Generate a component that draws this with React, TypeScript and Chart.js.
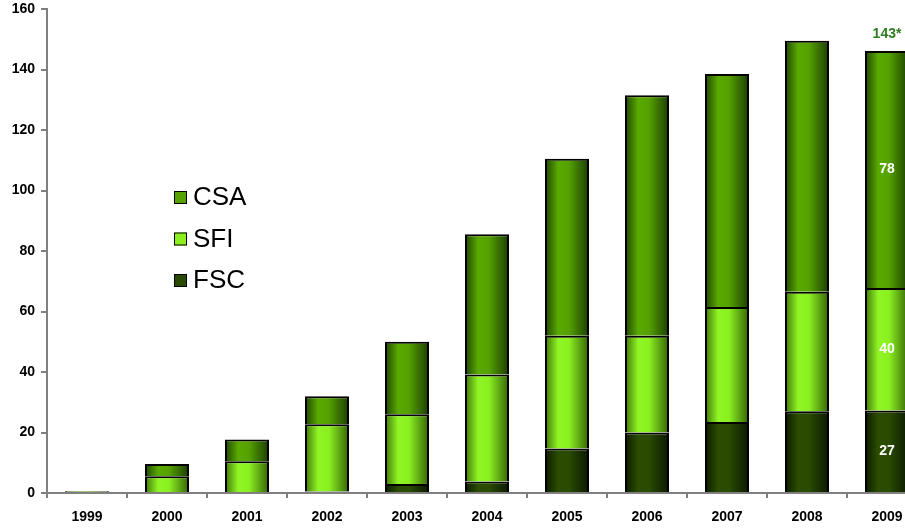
import React, { useEffect, useRef } from "react";
import { Chart, registerables } from "chart.js";

Chart.register(...registerables);

const years = ["1999", "2000", "2001", "2002", "2003", "2004", "2005", "2006", "2007", "2008", "2009"];
const fsc = [0, 0, 0, 0.5, 3, 3.8, 14.7, 20, 23.5, 27, 27.3];
const sfi = [0, 5.5, 10.5, 22.2, 23, 35.4, 37.3, 32, 38, 39.5, 40.5];
const csa = [0.6, 4.1, 7.2, 9.3, 24, 46.3, 58.5, 79.5, 77, 83, 78.3];
const lastBarLabels = { fsc: "27", sfi: "40", csa: "78", total: "143*" };
const yTicks = [0, 20, 40, 60, 80, 100, 120, 140, 160];

const FONT = "Arial, 'Liberation Sans', sans-serif";
const BAR_PCT = 0.55;

const palette: Record<string, string[]> = {
  FSC: ["#0c1a00", "#2b4d00", "#294a00", "#0a1800"],
  SFI: ["#3e7608", "#90f625", "#8aee20", "#346406"],
  CSA: ["#1f4400", "#5aaa00", "#54a000", "#1b3d00"],
};
const legendColors: Record<string, string> = { FSC: "#284a00", SFI: "#8cf020", CSA: "#56a200" };

function gradientFor(stops: string[]) {
  return (ctx: any) => {
    const chart = ctx.chart;
    const xs = chart.scales ? chart.scales.x : null;
    if (ctx.type !== "data" || !xs || !chart.chartArea) return stops[1];
    const cx = xs.getPixelForValue(ctx.dataIndex);
    const w = (xs.width / years.length) * BAR_PCT;
    const g = chart.ctx.createLinearGradient(cx - w / 2, 0, cx + w / 2, 0);
    g.addColorStop(0, stops[0]);
    g.addColorStop(0.3, stops[1]);
    g.addColorStop(0.55, stops[2]);
    g.addColorStop(1, stops[3]);
    return g;
  };
}

const overlayPlugin = {
  id: "overlay",
  afterDatasetsDraw(chart: any) {
    const c = chart.ctx;
    const last = years.length - 1;
    c.save();
    c.textAlign = "center";
    c.textBaseline = "middle";
    c.font = `bold 14px ${FONT}`;
    c.fillStyle = "#ffffff";
    const segLabels = [lastBarLabels.fsc, lastBarLabels.sfi, lastBarLabels.csa];
    chart.data.datasets.forEach((ds: any, i: number) => {
      const el = chart.getDatasetMeta(i).data[last];
      if (!el) return;
      const mid = (el.y + el.base) / 2;
      c.fillText(segLabels[i], el.x, mid);
    });
    const topEl = chart.getDatasetMeta(2).data[last];
    c.fillStyle = "#2e7d1e";
    c.fillText(lastBarLabels.total, topEl.x, topEl.y - 17);

    // legend
    const order = [2, 1, 0];
    const lx = 174;
    const ly0 = 197;
    const gap = 41.5;
    order.forEach((di, k) => {
      const ds = chart.data.datasets[di];
      const y = ly0 + k * gap;
      c.fillStyle = legendColors[ds.label];
      c.fillRect(lx, y - 6, 13, 13);
      c.strokeStyle = "#000";
      c.lineWidth = 1;
      c.strokeRect(lx + 0.5, y - 5.5, 12, 12);
      c.fillStyle = "#000";
      c.textAlign = "left";
      c.font = `26px ${FONT}`;
      c.fillText(ds.label, lx + 19, y + 1);
    });
    c.restore();
  },
};

export default function App() {
  const ref = useRef<HTMLCanvasElement | null>(null);
  useEffect(() => {
    if (!ref.current) return;
    const mk = (label: string, data: number[]) => ({
      label,
      data,
      backgroundColor: gradientFor(palette[label]),
      borderColor: "#000000",
      borderWidth: 2,
      categoryPercentage: 1,
      barPercentage: BAR_PCT,
    });
    const chart = new Chart(ref.current, {
      type: "bar",
      data: {
        labels: years,
        datasets: [mk("FSC", fsc), mk("SFI", sfi), mk("CSA", csa)],
      },
      options: {
        responsive: false,
        animation: false,
        layout: { padding: { top: 9, right: 3, left: 0, bottom: 0 } },
        plugins: { legend: { display: false }, tooltip: { enabled: false } },
        scales: {
          x: {
            stacked: true,
            afterFit: (s: any) => {
              s.height = 36;
              s.paddingLeft = 0;
              s.paddingRight = 0;
            },
            grid: {
              display: true,
              drawOnChartArea: false,
              drawTicks: true,
              tickLength: 5,
              color: "#808080",
              lineWidth: 2,
              offset: true,
            },
            border: { display: true, color: "#808080", width: 2 },
            ticks: {
              color: "#000",
              font: { family: FONT, size: 14, weight: "bold" },
              padding: 11,
              maxRotation: 0,
            },
          },
          y: {
            stacked: true,
            min: 0,
            max: 160,
            afterBuildTicks: (s: any) => {
              s.ticks = yTicks.map((v) => ({ value: v }));
            },
            afterFit: (s: any) => {
              s.width = 47;
              s.paddingTop = 0;
              s.paddingBottom = 0;
            },
            grid: {
              display: true,
              drawOnChartArea: false,
              drawTicks: true,
              tickLength: 6,
              color: "#808080",
              lineWidth: 2,
            },
            border: { display: true, color: "#808080", width: 2 },
            ticks: {
              color: "#000",
              font: { family: FONT, size: 14, weight: "bold" },
              padding: 6,
            },
          },
        },
      },
      plugins: [overlayPlugin],
    });
    return () => chart.destroy();
  }, []);
  return (
    <div style={{ position: "fixed", left: 0, top: 0, width: 905, height: 529, overflow: "hidden", background: "#fff" }}>
      <canvas ref={ref} width={930} height={529} style={{ width: 930, height: 529, display: "block" }} />
    </div>
  );
}
